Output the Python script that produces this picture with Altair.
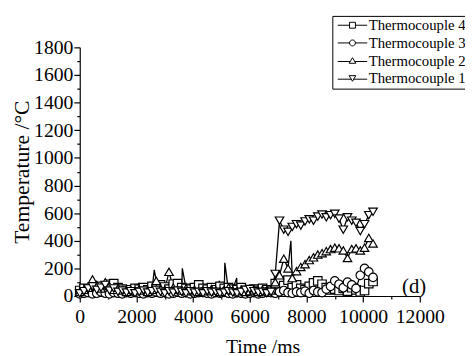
import altair as alt
import pandas as pd

series_names = ["Thermocouple 4", "Thermocouple 3", "Thermocouple 2", "Thermocouple 1"]
marker_shapes = ["square", "circle", "triangle-up", "triangle-down"]

# sampling times (ms)
times = [0, 150, 300, 450, 600, 750, 900, 1050, 1200, 1350,
         1500, 1650, 1800, 1950, 2100, 2250, 2400, 2550, 2700, 2850,
         3000, 3150, 3300, 3450, 3600, 3750, 3900, 4050, 4200, 4350,
         4500, 4650, 4800, 4950, 5100, 5250, 5400, 5550, 5700, 5850,
         6000, 6150, 6300, 6450, 6600, 6750, 6900, 7050, 7200, 7350,
         7500, 7650, 7800, 7950, 8100, 8250, 8400, 8550, 8700, 8850,
         9000, 9150, 9300, 9450, 9600, 9750, 9900, 10050, 10200, 10350]

tc1 = [20, 35, 55, 70, 45, 60, 80, 40, 55, 30,
       40, 25, 35, 20, 30, 40, 25, 35, 45, 30,
       20, 35, 25, 40, 30, 20, 35, 25, 30, 20,
       35, 25, 30, 20, 25, 35, 25, 20, 30, 45,
       50, 35, 25, 30, 20, 30, 160, 545, 480, 465,
       500, 520, 510, 540, 555, 545, 575, 590, 570, 585,
       595, 560, 480, 570, 545, 530, 470, 520, 585, 610]

tc2 = [30, 45, 60, 120, 80, 55, 100, 70, 45, 60,
       40, 30, 45, 35, 50, 40, 30, 45, 110, 55,
       45, 175, 60, 45, 40, 55, 35, 45, 30, 40,
       35, 50, 40, 30, 45, 60, 40, 35, 45, 30,
       35, 40, 30, 45, 35, 40, 100, 150, 270, 200,
       130, 180, 210, 230, 260, 280, 300, 310, 325, 340,
       350, 345, 330, 275, 340, 345, 330, 350, 420, 380]

tc3 = [15, 20, 25, 15, 20, 30, 20, 15, 25, 20,
       15, 25, 20, 30, 20, 15, 25, 20, 30, 20,
       25, 15, 20, 30, 20, 25, 15, 20, 25, 30,
       20, 15, 25, 20, 30, 20, 15, 25, 20, 15,
       20, 25, 15, 20, 30, 25, 20, 30, 40, 25,
       20, 30, 25, 35, 20, 40, 30, 25, 50, 70,
       110, 85, 60, 100, 80, 55, 150, 200, 175, 135]

tc4 = [40, 55, 50, 60, 45, 70, 55, 85, 90, 60,
       50, 40, 45, 55, 50, 60, 45, 70, 55, 80,
       65, 50, 85, 90, 60, 55, 50, 60, 80, 55,
       50, 60, 45, 70, 55, 60, 50, 45, 60, 40,
       45, 50, 40, 55, 45, 40, 90, 110, 75, 115,
       60, 80, 55, 45, 70, 95, 110, 85, 60, 45,
       50, 40, 55, 35, 60, 45, 30, 40, 90, 105]

# narrow spikes drawn only by the connecting lines
spike_series = ["Thermocouple 2", "Thermocouple 4", "Thermocouple 1", "Thermocouple 4",
                "Thermocouple 2", "Thermocouple 1", "Thermocouple 3"]
spike_time = [2630, 3620, 5120, 5540, 7450, 4930, 2080]
spike_temp = [190, 200, 240, 130, 400, 110, 95]

x_ticks = [0, 1000, 2000, 3000, 4000, 5000, 6000, 7000, 8000, 9000, 10000, 11000, 12000]
y_major = [0, 200, 400, 600, 800, 1000, 1200, 1400, 1600, 1800]
y_minor = [100, 300, 500, 700, 900, 1100, 1300, 1500, 1700]

panel_label = ["(d)"]
panel_pos_t = [11800]
panel_pos_temp = [20]

# legend glyphs: line segment with the marker in its middle
legend_paths = [
    "M-1.33,0H2.67M4.67,0H8.67M2.67,-1H4.67V1H2.67Z",
    "M-1.33,0H2.67M4.67,0H8.67M2.67,0A1,1,0,1,1,4.67,0A1,1,0,1,1,2.67,0Z",
    "M-1.33,0.3H2.9M4.44,0.3H8.67M3.67,-1L4.8,0.9L2.54,0.9Z",
    "M-1.33,0.3H3.25M4.09,0.3H8.67M3.67,1L4.8,-0.9L2.54,-0.9Z",
]

rows = []
for name, vals in zip(series_names, [tc4, tc3, tc2, tc1]):
    for t, v in zip(times, vals):
        rows.append({"series": name, "t": t, "temp": v, "marker": True})
for s, t, v in zip(spike_series, spike_time, spike_temp):
    rows.append({"series": s, "t": t, "temp": v, "marker": False})
df = pd.DataFrame(rows)

FONT = "Liberation Serif"

x_scale = alt.Scale(domain=[0, 12000], nice=False, zero=False)
y_scale = alt.Scale(domain=[0, 1800], nice=False)

x_enc = alt.X(
    "t:Q", scale=x_scale,
    axis=alt.Axis(
        values=x_ticks, format="d",
        labelExpr="datum.value % 2000 === 0 ? datum.label : ''",
        tickSize={"condition": {"test": "datum.value % 2000 !== 0", "value": 3}, "value": 6},
        title="Time /ms", titleX=186, titlePadding=11, titleFontSize=20,
        labelPadding=5, labelFlush=False, labelOverlap=False, grid=False,
    ),
)
y_enc = alt.Y(
    "temp:Q", scale=y_scale,
    axis=alt.Axis(
        values=y_major, format="d", tickSize=6, orient="left",
        title="Temperature /°C", titlePadding=0, titleFontSize=22,
        labelPadding=1, labelFlush=False, labelOverlap=False, grid=False,
    ),
)
y_plain = alt.Y("temp:Q", scale=y_scale, axis=None)
y_minor_enc = alt.Y(
    "temp:Q", scale=y_scale,
    axis=alt.Axis(
        values=y_minor, orient="left", tickSize=3, labels=False, domain=False,
        title=None, grid=False, offset=0,
    ),
)

base = alt.Chart(df)

lines = base.mark_line(color="black", strokeWidth=1.3).encode(
    x=x_enc, y=y_enc, detail="series:N", order="t:Q"
)

points = base.transform_filter("datum.marker").mark_point(
    fill="white", stroke="black", strokeWidth=1.2, opacity=1, size=75
).encode(
    x=x_enc, y=y_plain,
    shape=alt.Shape("series:N", scale=alt.Scale(domain=series_names, range=marker_shapes), legend=None),
)

minor_layer = base.transform_filter("false").mark_point(opacity=0).encode(
    x=x_enc, y=y_minor_enc
)

legend_layer = base.transform_filter("false").mark_point(
    filled=False, stroke="black", strokeWidth=1, opacity=1, size=36
).encode(
    x=x_enc, y=y_plain,
    shape=alt.Shape(
        "series:N",
        scale=alt.Scale(domain=series_names, range=legend_paths),
        legend=alt.Legend(
            title=None, orient="none", legendX=257, legendY=-32,
            labelFont=FONT, labelFontSize=15, labelColor="black",
            strokeColor="black", padding=2, rowPadding=2, labelOffset=20,
            symbolSize=36, symbolStrokeColor="black", symbolStrokeWidth=1,
            symbolFillColor="white", labelLimit=300,
        ),
    ),
)

label_df = pd.DataFrame({"t": panel_pos_t, "temp": panel_pos_temp, "txt": panel_label})
label = alt.Chart(label_df).mark_text(
    font=FONT, fontSize=21, color="black", baseline="alphabetic", align="center"
).encode(x=x_enc, y=y_plain, text="txt:N")

chart = alt.layer(lines, points, minor_layer, legend_layer, label).resolve_scale(
    shape="independent"
).resolve_axis(y="independent").properties(
    width=346, height=253,
    autosize=alt.AutoSizeParams(type="none"),
    padding={"left": 73, "top": 37, "right": 46, "bottom": 58},
).configure_axis(
    labelFont=FONT, labelFontSize=20, titleFont=FONT, titleFontWeight="normal",
    labelColor="black", titleColor="black", domainColor="black", tickColor="black",
    domainWidth=1.2, tickWidth=1.2,
).configure_view(stroke=None)

chart.save("out.html", embed_options={"renderer": "svg", "actions": False})
